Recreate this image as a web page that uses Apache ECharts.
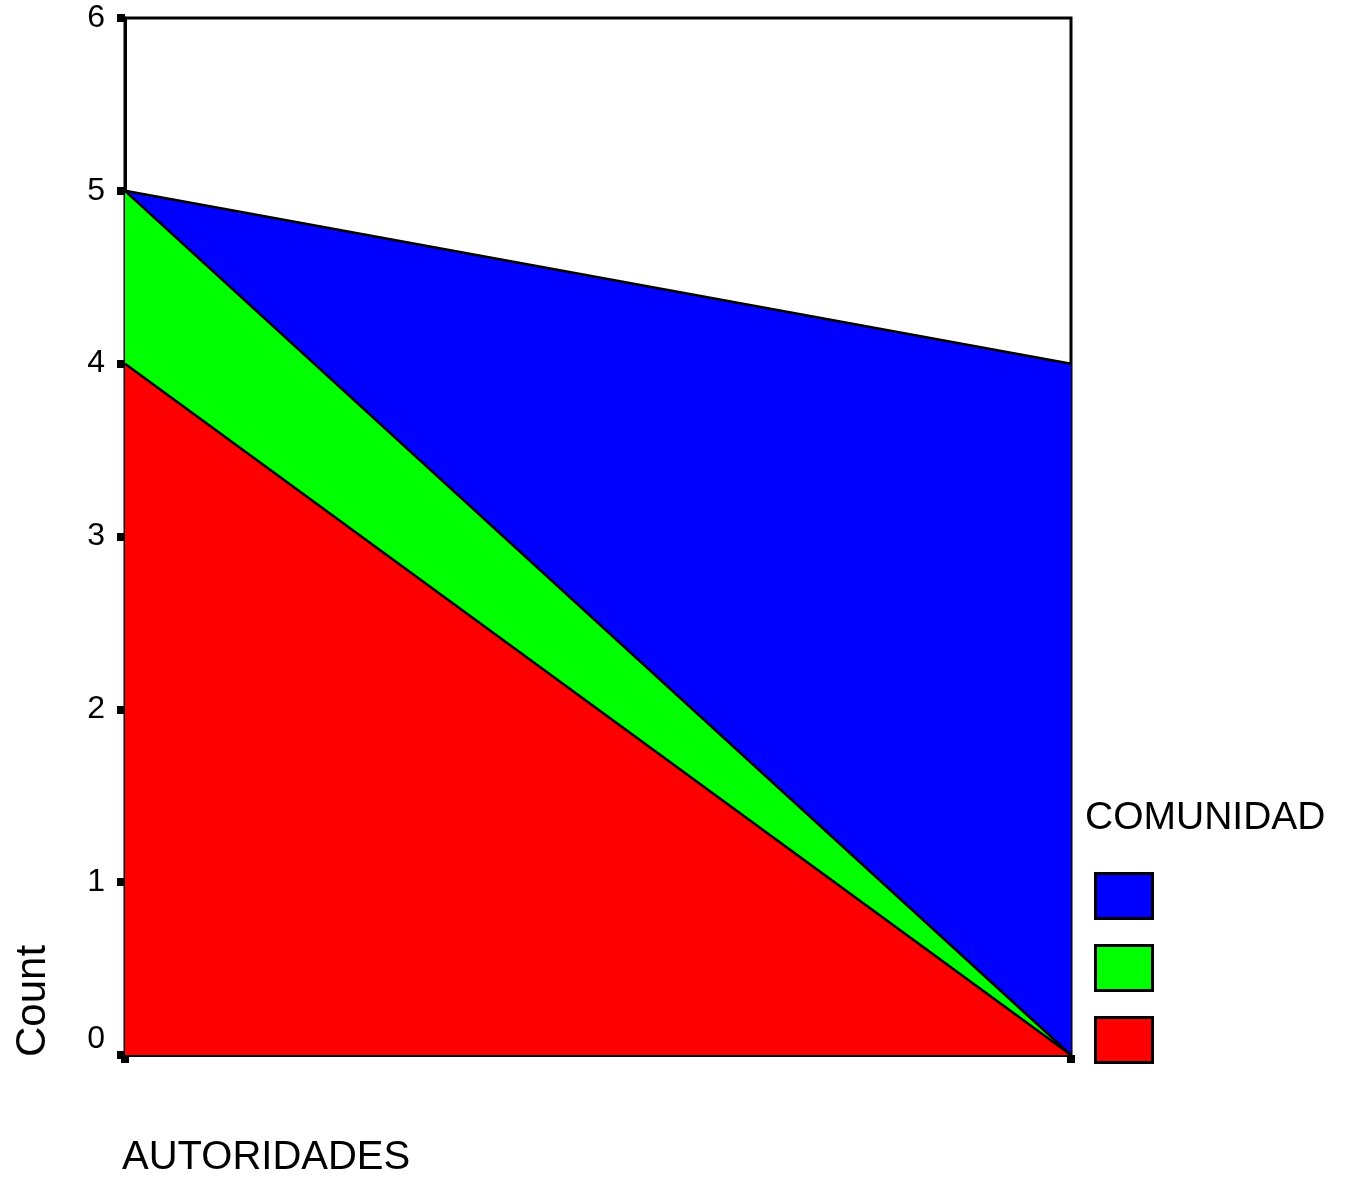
<!DOCTYPE html>
<html>
<head>
<meta charset="utf-8">
<script src="https://cdn.jsdelivr.net/npm/echarts@6/dist/echarts.min.js"></script>
<style>
  html, body { margin: 0; padding: 0; background: #fff; }
  #main { width: 1345px; height: 1177px; }
</style>
</head>
<body>
<div id="main"></div>
<script>
// two AUTORIDADES categories (no labels shown in the original)
var categories = ['1', '2'];
// COMUNIDAD groups, stacked bottom to top
var redValues = [4, 0];
var greenValues = [1, 0];
var blueValues = [0, 4];
var yTicks = [0, 1, 2, 3, 4, 5, 6];

var font = '"Liberation Sans", Arial, sans-serif';
var chart = echarts.init(document.getElementById('main'), null, { renderer: 'canvas' });

function areaSeries(name, data, color) {
  return {
    name: name,
    type: 'line',
    stack: 'total',
    data: data,
    symbol: 'none',
    lineStyle: { color: '#000', width: 2.5 },
    areaStyle: { color: color, opacity: 1 },
    itemStyle: { color: color, borderColor: '#000', borderWidth: 2 }
  };
}

var option = {
  backgroundColor: '#fff',
  animation: false,
  grid: {
    left: 125, right: 274, top: 18, bottom: 122,
    show: true, borderColor: '#000', borderWidth: 3, backgroundColor: 'transparent'
  },
  xAxis: {
    type: 'category',
    data: categories,
    boundaryGap: false,
    axisLine: { lineStyle: { color: '#000', width: 3 } },
    axisTick: { length: 8, lineStyle: { color: '#000', width: 8 } },
    axisLabel: { show: false },
    splitLine: { show: false }
  },
  yAxis: {
    type: 'value',
    min: yTicks[0],
    max: yTicks[yTicks.length - 1],
    interval: 1,
    axisLine: { show: true, lineStyle: { color: '#000', width: 3 } },
    axisTick: { show: true, length: 8, lineStyle: { color: '#000', width: 8 } },
    axisLabel: { color: '#000', fontSize: 32, fontFamily: font, margin: 20, verticalAlignMinLabel: 'bottom', verticalAlignMaxLabel: 'middle' },
    splitLine: { show: false }
  },
  legend: {
    data: ['blue', 'green', 'red'],
    orient: 'vertical',
    left: 1089,
    top: 867,
    icon: 'rect',
    itemWidth: 57,
    itemHeight: 45,
    itemGap: 24,
    selectedMode: false,
    formatter: function () { return ''; },
    itemStyle: { borderColor: '#000', borderWidth: 3 }
  },
  graphic: [
    { type: 'text', left: 1085, top: 799, style: { text: 'COMUNIDAD', font: '39px ' + font, fill: '#000' } },
    { type: 'text', left: 122, top: 1138, style: { text: 'AUTORIDADES', font: '40px ' + font, fill: '#000' } },
    { type: 'text', x: 12, y: 1057, rotation: Math.PI / 2, style: { text: 'Count', font: '42px ' + font, fill: '#000' } }
  ],
  series: [
    areaSeries('red', redValues, '#ff0000'),
    areaSeries('green', greenValues, '#00ff00'),
    areaSeries('blue', blueValues, '#0000ff')
  ]
};
chart.setOption(option);
</script>
</body>
</html>
